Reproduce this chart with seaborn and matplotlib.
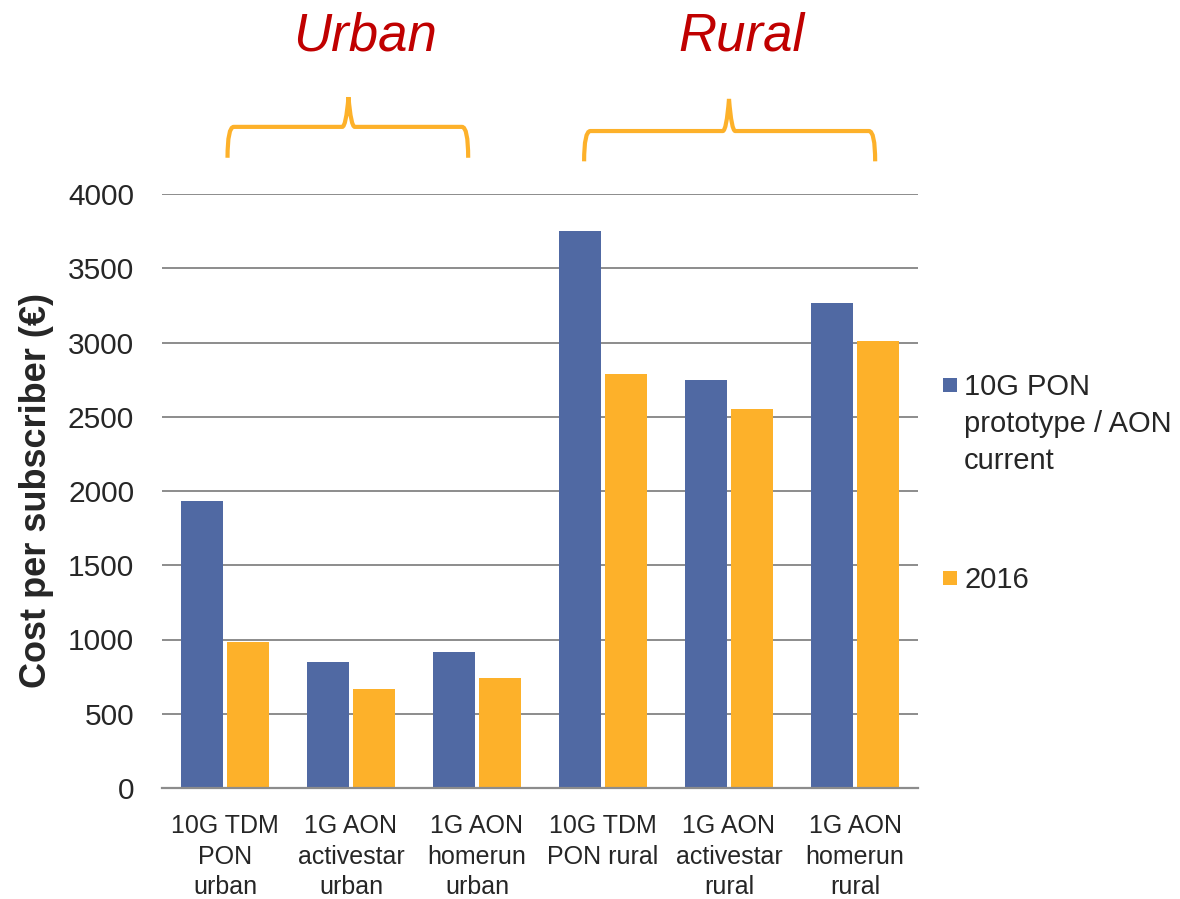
import matplotlib
matplotlib.use("Agg")
import matplotlib.pyplot as plt
import seaborn as sns
import pandas as pd
from matplotlib.path import Path
from matplotlib.patches import PathPatch, Rectangle

categories = ["10G TDM\nPON\nurban", "1G AON\nactivestar\nurban", "1G AON\nhomerun\nurban",
              "10G TDM\nPON rural", "1G AON\nactivestar\nrural", "1G AON\nhomerun\nrural"]
series_names = ["10G PON\nprototype / AON\ncurrent", "2016"]
values_current = [1930, 850, 915, 3750, 2750, 3265]
values_2016 = [980, 670, 740, 2790, 2550, 3010]
yticks = [0, 500, 1000, 1500, 2000, 2500, 3000, 3500, 4000]
group_labels = ["Urban", "Rural"]

blue = "#5069A3"
orange = "#FDB12A"
red = "#C00000"
W, H = 1180, 899

sns.set_theme(style="white")
plt.rcParams["font.family"] = ["Liberation Sans", "DejaVu Sans"]

df = pd.DataFrame({
    "cat": categories * 2,
    "series": [series_names[0]] * 6 + [series_names[1]] * 6,
    "value": values_current + values_2016,
})

fig = plt.figure(figsize=(11.8, 8.99), dpi=100)
ax = fig.add_axes([162 / W, 1 - 788 / H, (918 - 162) / W, (788 - 194) / H])

sns.barplot(data=df, x="cat", y="value", hue="series", palette=[blue, orange],
            width=0.74, gap=0.1, ax=ax, saturation=1, errorbar=None, edgecolor="none",
            legend=False)

ax.set_ylim(0, 4000)
ax.set_xlim(-0.5, 5.5)
ax.set_yticks(yticks)
ax.set_yticklabels([str(t) for t in yticks], fontsize=21.5, color="#262626")
ax.tick_params(axis="y", length=0, pad=20)
ax.tick_params(axis="x", length=0, pad=19)
for lbl in ax.get_xticklabels():
    lbl.set_fontsize(18)
    lbl.set_color("#262626")
    lbl.set_linespacing(1.33)
ax.yaxis.grid(True, color="#8C8C8C", linewidth=1.4)
ax.set_axisbelow(True)
for s in ["left", "right", "top"]:
    ax.spines[s].set_visible(False)
ax.spines["bottom"].set_color("#8C8C8C")
ax.spines["bottom"].set_linewidth(1.6)
ax.set_xlabel("")
ax.set_ylabel("Cost per subscriber (€)", fontsize=26, fontweight="bold", color="#262626", labelpad=10)

# legend (handle aligned with the first line of each entry)
leg_colors = [blue, orange]
leg_square_y = [385, 578]
for name, col, yc in zip(series_names, leg_colors, leg_square_y):
    fig.patches.append(Rectangle((943 / W, 1 - (yc + 7) / H), 14 / W, 14 / H,
                                 transform=fig.transFigure, facecolor=col, edgecolor="none"))
    fig.text(964 / W, 1 - (yc - 12) / H, name, fontsize=21, color="#262626",
             ha="left", va="top", linespacing=1.4)

# braces and group labels
tr = ax.get_xaxis_transform()
def brace(x0, x1, xm, yb, yh, yt):
    dx = 0.05
    verts = [(x0, yb), (x0, yh), (x0 + dx, yh),
             (xm - dx, yh), (xm - 0.02, yh), (xm, yt),
             (xm + 0.02, yh), (xm + dx, yh),
             (x1 - dx, yh), (x1, yh), (x1, yb)]
    codes = [Path.MOVETO, Path.CURVE3, Path.CURVE3,
             Path.LINETO, Path.CURVE3, Path.CURVE3,
             Path.CURVE3, Path.CURVE3,
             Path.LINETO, Path.CURVE3, Path.CURVE3]
    p = PathPatch(Path(verts, codes), transform=tr, fill=False,
                  edgecolor=orange, linewidth=3, clip_on=False, capstyle="butt")
    ax.add_patch(p)

brace(0.02, 1.93, 0.98, 1.061, 1.113, 1.163)
brace(2.85, 5.16, 4.0, 1.055, 1.106, 1.160)

ax.text(1.11, 1.265, group_labels[0], transform=tr, ha="center", va="center",
        fontsize=38, style="italic", color=red)
ax.text(4.1, 1.265, group_labels[1], transform=tr, ha="center", va="center",
        fontsize=38, style="italic", color=red)

fig.savefig("out.png", dpi=100)
